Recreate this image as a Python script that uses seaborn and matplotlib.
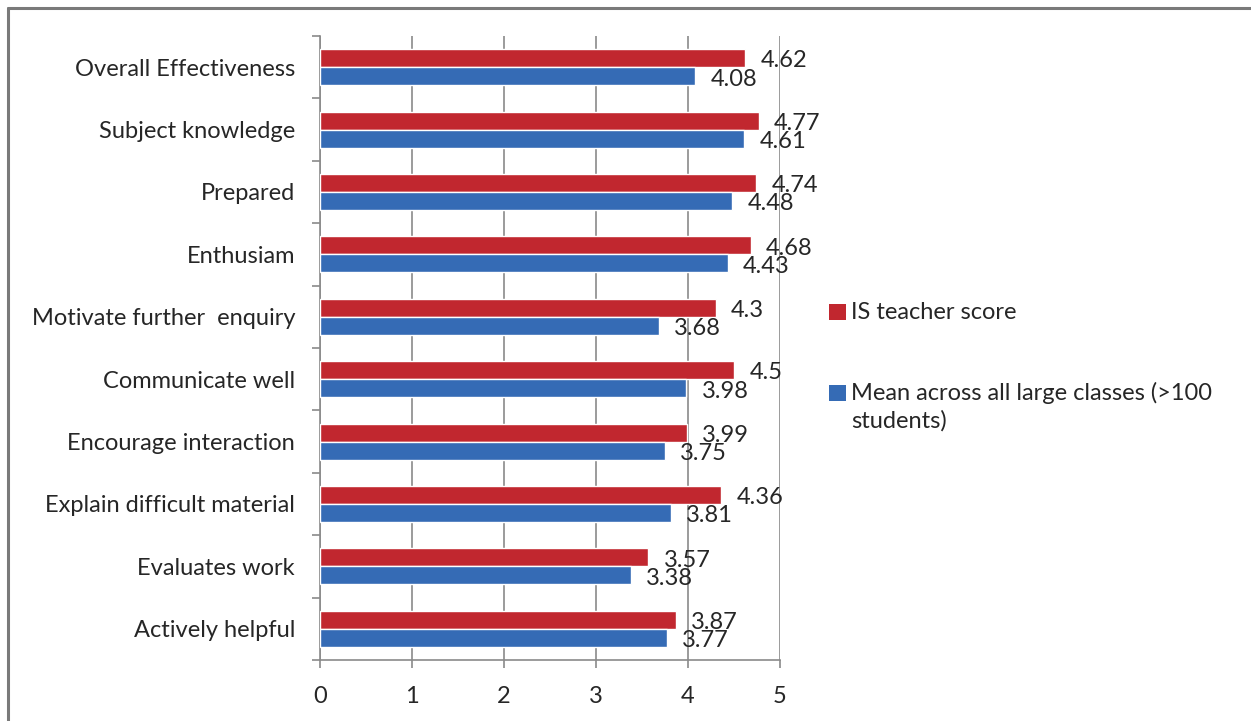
import pandas as pd
import seaborn as sns
from matplotlib import pyplot as plt
from matplotlib.lines import Line2D
from matplotlib.patches import Rectangle
from matplotlib import ticker as plticker

categories = ['Overall Effectiveness', 'Subject knowledge', 'Prepared',
              'Enthusiam', 'Motivate further  enquiry', 'Communicate well',
              'Encourage interaction', 'Explain difficult material',
              'Evaluates work', 'Actively helpful']
is_teacher = [4.62, 4.77, 4.74, 4.68, 4.3, 4.5, 3.99, 4.36, 3.57, 3.87]
mean_large = [4.08, 4.61, 4.48, 4.43, 3.68, 3.98, 3.75, 3.81, 3.38, 3.77]
series_names = ['IS teacher score',
                'Mean across all large classes (>100\nstudents)']
x_ticks = [0, 1, 2, 3, 4, 5]

RED = '#C1272F'
BLUE = '#356BB5'
GRID = '#8A8A8A'
TEXT = '#262626'
W, H = 1251, 721

# long form table for seaborn
df = pd.DataFrame({
    'Category': categories * 2,
    'Score': is_teacher + mean_large,
    'Series': [series_names[0]] * len(categories) +
              [series_names[1]] * len(categories),
})

sns.set_theme(style='white')
plt.rcParams['font.family'] = ['Lato', 'DejaVu Sans']
plt.rcParams['text.color'] = TEXT

fig = plt.figure(figsize=(W / 100, H / 100), dpi=100)
ax = fig.add_axes([320 / W, 1 - 660 / H, 460 / W, 624 / H])

sns.barplot(data=df, x='Score', y='Category', hue='Series',
            hue_order=series_names, order=categories,
            palette=[RED, BLUE], orient='h', width=0.58,
            saturation=1, legend=False, ax=ax, zorder=3)

ax.set_xlim(0, 5)
ax.set_ylim(len(categories) - 0.5, -0.5)
ax.set_xticks(x_ticks)
ax.set_xticklabels([str(t) for t in x_ticks])
ax.set_xlabel('')
ax.set_ylabel('')

# vertical gridlines
ax.xaxis.grid(True, color=GRID, linewidth=1.2, zorder=0)
ax.yaxis.grid(False)
ax.set_axisbelow(True)

for side in ['top', 'right']:
    ax.spines[side].set_visible(False)
for side in ['left', 'bottom']:
    ax.spines[side].set_color(GRID)
    ax.spines[side].set_linewidth(1.2)

# category tick marks sit between the groups
ax.yaxis.set_minor_locator(plticker.FixedLocator(
    [i - 0.5 for i in range(len(categories) + 1)]))
ax.tick_params(axis='y', which='major', length=0, pad=18, labelsize=17,
               labelcolor=TEXT)
ax.tick_params(axis='y', which='minor', length=6, width=1.2, color=GRID,
               left=True, direction='out')
ax.tick_params(axis='x', which='major', length=6, width=1.2, color=GRID,
               bottom=True, direction='out', pad=13, labelsize=17,
               labelcolor=TEXT)

# value labels
for cont in ax.containers:
    for bar, v in zip(cont, cont.datavalues):
        ax.annotate(f'{v:g}',
                    (bar.get_width(), bar.get_y() + bar.get_height() / 2),
                    xytext=(11, -2), textcoords='offset points',
                    ha='left', va='center', fontsize=17, color=TEXT,
                    annotation_clip=False, zorder=5)

# legend on the right, square aligned with the first text line
legend_rows = [(RED, series_names[0], 304, 319),
               (BLUE, series_names[1], 385, 400)]
for color, label, top, base in legend_rows:
    fig.add_artist(Rectangle((829 / W, 1 - (top + 16) / H), 17 / W, 16 / H,
                             transform=fig.transFigure, facecolor=color,
                             edgecolor='none'))
    for k, line in enumerate(label.split('\n')):
        fig.text(851 / W, 1 - (base + 28 * k) / H, line, fontsize=17,
                 ha='left', va='baseline', color=TEXT)

# chart frame (cropped on right and bottom)
fig.add_artist(Line2D([8 / W, 1.0], [1 - 8 / H, 1 - 8 / H],
                      transform=fig.transFigure, color='#7A7A7A', lw=2.2))
fig.add_artist(Line2D([8 / W, 8 / W], [0.0, 1 - 8 / H],
                      transform=fig.transFigure, color='#7A7A7A', lw=2.2))

fig.savefig('out.png', dpi=100, facecolor='white')
